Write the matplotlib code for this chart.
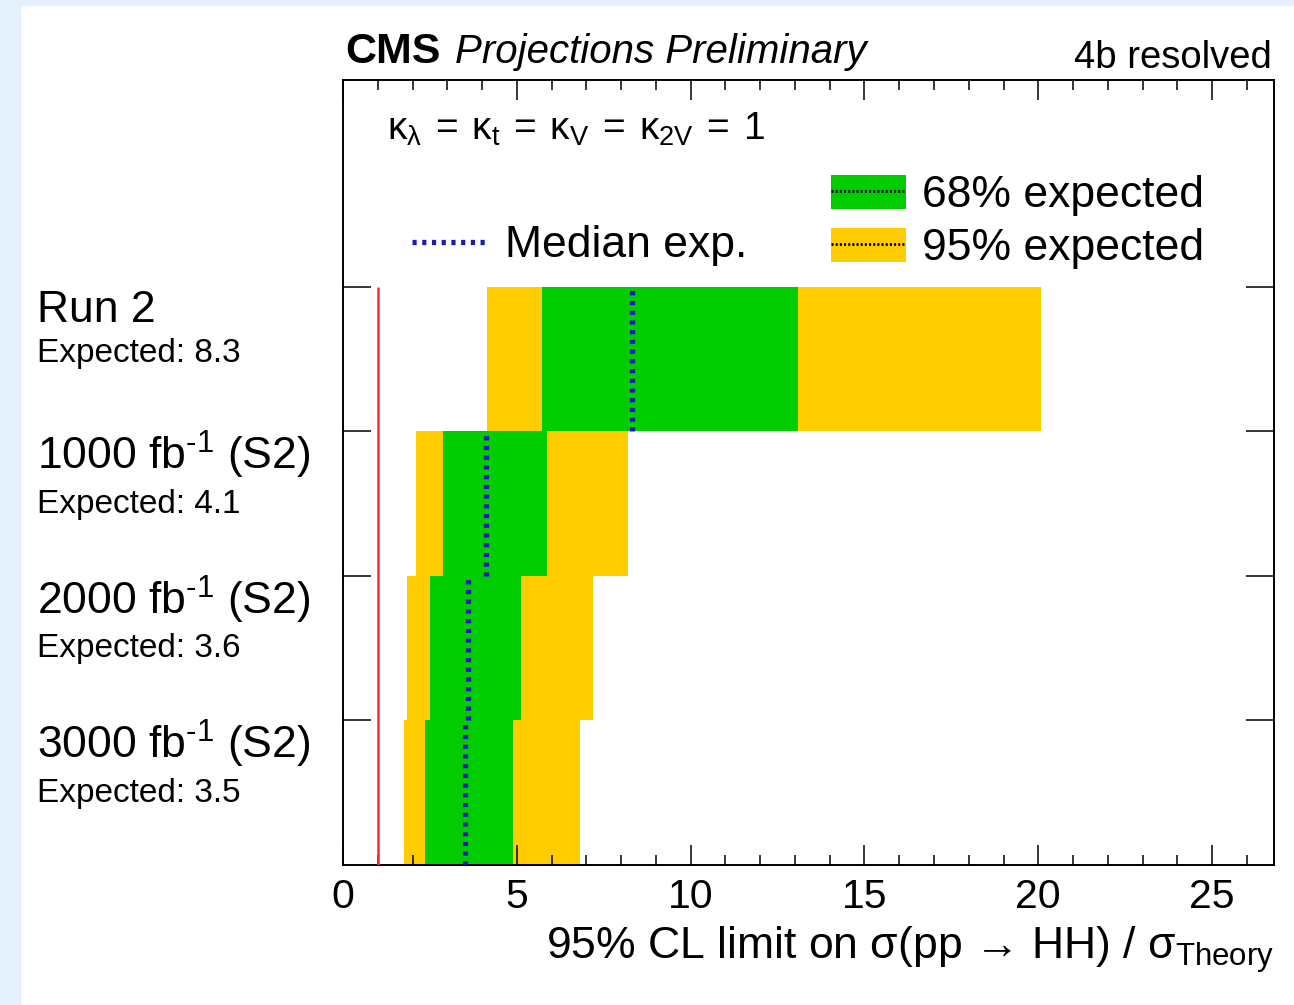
import matplotlib
matplotlib.use('Agg')
import matplotlib.pyplot as plt
from matplotlib.patches import Patch, Rectangle
from matplotlib.lines import Line2D
from matplotlib.ticker import MultipleLocator

plt.rcParams['font.family'] = ['Liberation Sans', 'DejaVu Sans']
plt.rcParams['mathtext.fontset'] = 'custom'
plt.rcParams['mathtext.rm'] = 'Liberation Sans'
plt.rcParams['mathtext.it'] = 'Liberation Sans:italic'
plt.rcParams['mathtext.bf'] = 'Liberation Sans:bold'
plt.rcParams['lines.scale_dashes'] = False

# scenarios, top row first
scenarios = ['Run 2', r'1000 fb$^{\text{-1}}$ (S2)', r'2000 fb$^{\text{-1}}$ (S2)',
             r'3000 fb$^{\text{-1}}$ (S2)']
median = [8.3, 4.1, 3.6, 3.5]
lo68 = [5.72, 2.87, 2.50, 2.36]
hi68 = [13.10, 5.86, 5.11, 4.89]
lo95 = [4.14, 2.10, 1.84, 1.75]
hi95 = [20.09, 8.19, 7.18, 6.81]
sm_line = 1.0

GREEN = '#00cc00'
YELLOW = '#ffcc00'
BLUE = '#1a1ab4'

fig = plt.figure(figsize=(12.94, 10.05), dpi=100)
fig.patches.append(Rectangle((0, 0), 20 / 1294, 1, transform=fig.transFigure,
                             color='#e4f1fc', zorder=-10))
fig.patches.append(Rectangle((0, 1 - 5 / 1005), 1, 5 / 1005, transform=fig.transFigure,
                             color='#e4f1fc', zorder=-10))

ax = fig.add_axes([343 / 1294, 140 / 1005, 931 / 1294, 785 / 1005])

n = len(scenarios)
rows = [n - 1 - i + 0.5 for i in range(n)]

ax.barh(rows, [h - l for l, h in zip(lo95, hi95)], left=lo95, height=1.0,
        color=YELLOW, linewidth=0, zorder=1)
ax.barh(rows, [h - l for l, h in zip(lo68, hi68)], left=lo68, height=1.0,
        color=GREEN, linewidth=0, zorder=2)
ax.vlines(median, [r - 0.5 for r in rows], [r + 0.5 for r in rows],
          colors=BLUE, linewidth=3.8, linestyles=(0, (3.0, 4.0)), zorder=3)
ax.vlines(sm_line, 0, n, colors='#ff2a2a', linewidth=1.8, zorder=4)

ax.set_xlim(0, 26.78)
ax.set_ylim(0, 5.43)

ax.xaxis.set_major_locator(MultipleLocator(5))
ax.xaxis.set_minor_locator(MultipleLocator(1))
ax.set_yticks(range(1, n + 1))
ax.set_yticklabels([])
ax.tick_params(axis='x', which='major', direction='in', length=14.4, width=1.1,
               top=True, labelsize=29.5, pad=9)
ax.tick_params(axis='x', which='minor', direction='in', length=7.2, width=1.1, top=True)
ax.tick_params(axis='y', which='major', direction='in', length=20, width=1.1,
               right=True, left=True)
for s in ax.spines.values():
    s.set_linewidth(1.4)

ax.set_xlabel(r'95% CL limit on $\mathregular{\sigma}$(pp → HH) / '
              r'$\mathregular{\sigma_{Theory}}$',
              fontsize=32, loc='right', labelpad=6)

# scenario labels on the left
ytr = ax.get_yaxis_transform()
for i, (name, m) in enumerate(zip(scenarios, median)):
    top = n - i
    ax.text(-0.3287, top - 0.165, name, transform=ytr, fontsize=32,
            ha='left', va='center', clip_on=False)
    off = 0.46 if i == 0 else 0.505
    ax.text(-0.3287, top - off, f'Expected: {m:.1f}', transform=ytr, fontsize=24,
            ha='left', va='center', clip_on=False)

ax.text((387 - 343) / 931, (865 - 140) / 785,
        r'$\mathregular{\kappa_{\lambda}\:=\:\kappa_{t}\:=\:\kappa_{V}\:=\:\kappa_{2V}\:=\:1}$',
        transform=ax.transAxes, fontsize=28, ha='left', va='baseline')

# legends
dot = dict(color='black', linestyle=(0, (1.5, 1.5)), linewidth=2.0)
band_handles = [(Patch(facecolor=GREEN, edgecolor='none'), Line2D([], [], **dot)),
                (Patch(facecolor=YELLOW, edgecolor='none'), Line2D([], [], **dot))]
leg1 = ax.legend(band_handles, ['68% expected', '95% expected'], loc='center left',
                 bbox_to_anchor=((831 - 343) / 931, (865 - 222) / 785),
                 frameon=False, fontsize=32, handlelength=1.69, handleheight=0.8,
                 handletextpad=0.36, labelspacing=0.25, borderpad=0, borderaxespad=0)
ax.add_artist(leg1)
med_handle = Line2D([], [], color=BLUE, linewidth=3.8, linestyle=(0, (3.0, 4.0)))
ax.legend([med_handle], ['Median exp.'], loc='center left',
          bbox_to_anchor=((412 - 343) / 931, (865 - 246) / 785),
          frameon=False, fontsize=32, handlelength=1.67, handletextpad=0.42,
          borderpad=0, borderaxespad=0)

fig.text(345 / 1294, 1 - 63 / 1005, 'CMS', fontsize=31, fontweight='bold',
         ha='left', va='baseline')
fig.text(455 / 1294, 1 - 63 / 1005, 'Projections Preliminary', fontsize=29,
         style='italic', ha='left', va='baseline')
fig.text(1272 / 1294, 1 - 68 / 1005, '4b resolved', fontsize=27.5,
         ha='right', va='baseline')

fig.savefig('out.png', dpi=100)
